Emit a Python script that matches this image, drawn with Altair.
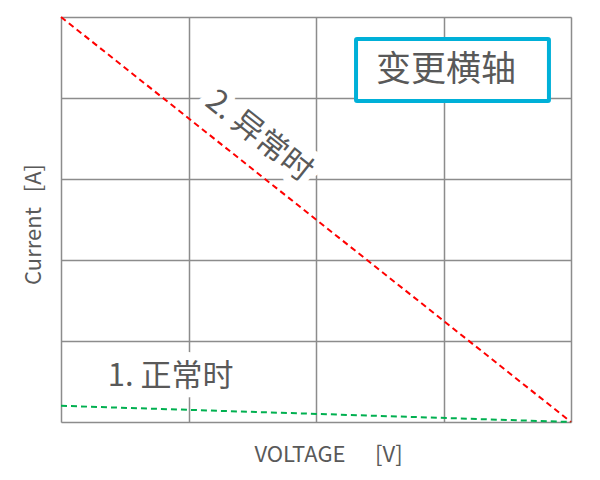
import altair as alt
import pandas as pd

# Series data (x in grid units 0-4, y in grid units 0-5)
series_names = ["2. 异常时", "2. 异常时", "1. 正常时", "1. 正常时"]
series_x = [0, 4, 0, 4]
series_y = [5, 0, 0.2, 0]
series_colors = ["#FF0000", "#00B050"]
series_domain = ["2. 异常时", "1. 正常时"]

# Annotation labels
label_text = ["2. 异常时", "1. 正常时"]
label_x = [1.55, 0.86]
label_y = [3.52, 0.56]
label_angle = [38.5, 0]

# Box annotation
box_text = ["变更横轴"]
box_x1 = [2.314]
box_x2 = [3.827]
box_y1 = [4.728]
box_y2 = [3.963]
box_tx = [3.02]
box_ty = [4.35]

FONT = "Noto Sans CJK SC"
GREY = "#595959"
NB = "\u00a0"

lines_df = pd.DataFrame({"series": series_names, "x": series_x, "y": series_y})
labels_df = pd.DataFrame({"text": label_text, "x": label_x, "y": label_y, "angle": label_angle})
box_df = pd.DataFrame({"text": box_text, "x1": box_x1, "x2": box_x2, "y1": box_y1, "y2": box_y2,
                       "tx": box_tx, "ty": box_ty})

xscale = alt.Scale(domain=[0, 4], nice=False)
yscale = alt.Scale(domain=[0, 5], nice=False)

xaxis = alt.Axis(values=[0, 1, 2, 3, 4], labels=False, ticks=False, domain=False, grid=True,
                 gridColor="#8c8c8c", gridWidth=1.5, title="VOLTAGE" + NB * 6 + "[V]",
                 titleFont=FONT, titleFontSize=22, titleFontWeight="normal", titleColor=GREY,
                 titlePadding=22, titleX=267)
yaxis = alt.Axis(values=[0, 1, 2, 3, 4, 5], labels=False, ticks=False, domain=False, grid=True,
                 gridColor="#8c8c8c", gridWidth=1.5, title="Current" + NB * 3 + "[A]",
                 titleFont=FONT, titleFontSize=22, titleFontWeight="normal", titleColor=GREY,
                 titlePadding=16, titleY=207)

lines = alt.Chart(lines_df).mark_line(strokeDash=[6, 4], strokeWidth=2).encode(
    x=alt.X("x:Q", scale=xscale, axis=xaxis),
    y=alt.Y("y:Q", scale=yscale, axis=yaxis),
    color=alt.Color("series:N", scale=alt.Scale(domain=series_domain, range=series_colors), legend=None),
    detail="series:N",
)

halo = alt.Chart(labels_df).mark_text(font=FONT, fontSize=31, stroke="white", strokeWidth=16,
                                      strokeJoin="round", fill="white").encode(
    x=alt.X("x:Q", scale=xscale), y=alt.Y("y:Q", scale=yscale), text="text:N",
    angle=alt.Angle("angle:Q", scale=None),
)
labels = alt.Chart(labels_df).mark_text(font=FONT, fontSize=31, color=GREY).encode(
    x=alt.X("x:Q", scale=xscale), y=alt.Y("y:Q", scale=yscale), text="text:N",
    angle=alt.Angle("angle:Q", scale=None),
)

box = alt.Chart(box_df).mark_rect(fill="white", stroke="#00B0D8", strokeWidth=4, cornerRadius=1).encode(
    x=alt.X("x1:Q", scale=xscale), x2="x2:Q",
    y=alt.Y("y1:Q", scale=yscale), y2="y2:Q",
)
box_label = alt.Chart(box_df).mark_text(font=FONT, fontSize=35, color=GREY).encode(
    x=alt.X("tx:Q", scale=xscale), y=alt.Y("ty:Q", scale=yscale), text="text:N",
)

chart = alt.layer(lines, halo, labels, box, box_label).properties(
    width=510, height=405,
    autosize=alt.AutoSizeParams(type="none"),
    padding={"left": 53, "top": 9, "right": 21, "bottom": 50},
).configure_view(stroke="#8c8c8c", strokeWidth=1.5).configure(background="white")

chart.save("out.html", embed_options={"renderer": "svg", "actions": False})
